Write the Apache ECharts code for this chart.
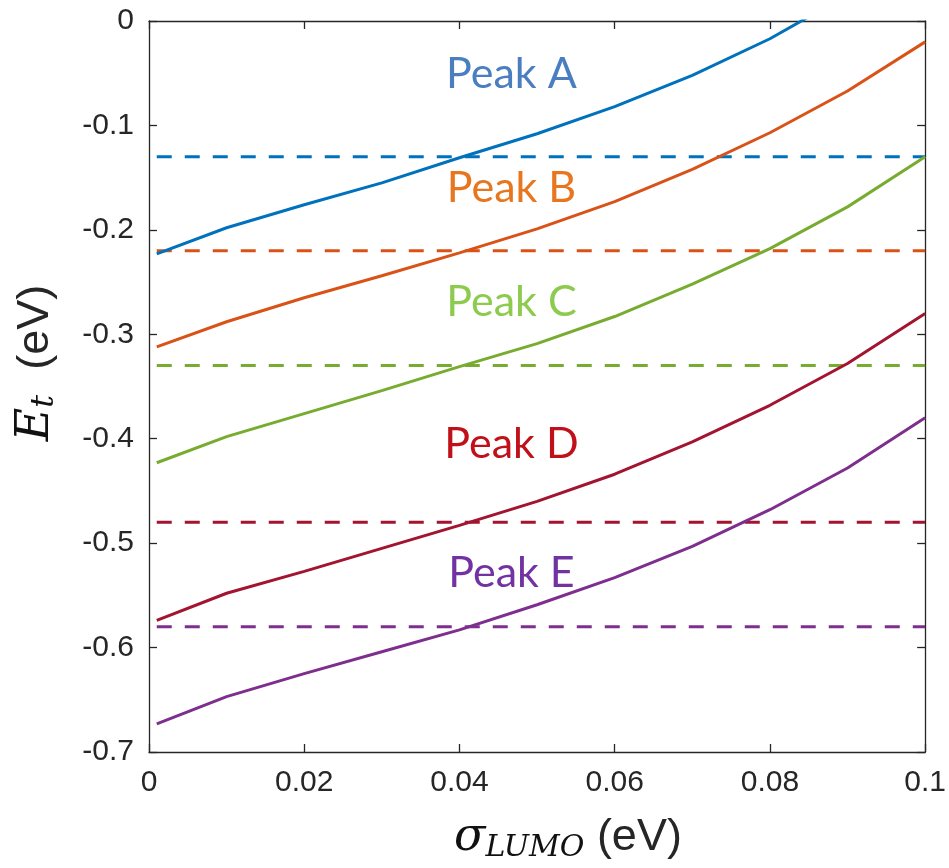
<!DOCTYPE html>
<html>
<head>
<meta charset="utf-8">
<script src="https://cdn.jsdelivr.net/npm/echarts@6/dist/echarts.min.js"></script>
<style>html,body{margin:0;padding:0;background:#fff;}#chart{width:949px;height:868px;}</style>
</head>
<body>
<div id="chart"></div>
<script>
// ---- data ----
const sigma = [0.001, 0.01, 0.02, 0.03, 0.04, 0.05, 0.06, 0.07, 0.08, 0.09, 0.1];
const peakA = [-0.223, -0.198, -0.176, -0.155, -0.131, -0.108, -0.082, -0.052, -0.017, 0.025, 0.075];
const peakB = [-0.312, -0.288, -0.265, -0.244, -0.222, -0.199, -0.173, -0.142, -0.107, -0.067, -0.020];
const peakC = [-0.423, -0.398, -0.376, -0.354, -0.331, -0.309, -0.283, -0.252, -0.218, -0.178, -0.130];
const peakD = [-0.574, -0.548, -0.527, -0.505, -0.483, -0.460, -0.434, -0.403, -0.368, -0.328, -0.280];
const peakE = [-0.673, -0.647, -0.625, -0.604, -0.583, -0.559, -0.533, -0.503, -0.468, -0.428, -0.380];
const levels = [-0.13, -0.22, -0.33, -0.48, -0.58];
const levelX = [0.001, 0.1];
const peakNames = ['Peak A', 'Peak B', 'Peak C', 'Peak D', 'Peak E'];
const labelX = [0.0467, 0.0467, 0.0467, 0.0467, 0.0467];
const labelY = [-0.051, -0.160, -0.269, -0.405, -0.529];
const xTicks = [0, 0.02, 0.04, 0.06, 0.08, 0.1];
const yTicks = [0, -0.1, -0.2, -0.3, -0.4, -0.5, -0.6, -0.7];

// ---- styles ----
const lineColors = ['#0072BD', '#D95319', '#77AC30', '#A2142F', '#7E2F8E'];
const textColors = ['#4A7EC1', '#E8761E', '#8CCB4E', '#C0101A', '#7232A2'];
const curves = [peakA, peakB, peakC, peakD, peakE];

const series = [];
curves.forEach((c, i) => {
  series.push({
    type: 'line', xAxisIndex: 0, yAxisIndex: 0,
    data: sigma.map((x, k) => [x, c[k]]),
    symbol: 'none', clip: true,
    lineStyle: { color: lineColors[i], width: 3 },
    z: 3
  });
  series.push({
    type: 'line', xAxisIndex: 0, yAxisIndex: 0,
    data: levelX.map(x => [x, levels[i]]),
    symbol: 'none',
    lineStyle: { color: lineColors[i], width: 3, type: [15, 13], cap: 'butt' },
    z: 2
  });
});
series.push({
  type: 'scatter', xAxisIndex: 0, yAxisIndex: 0,
  symbolSize: 1,
  itemStyle: { opacity: 0 },
  data: peakNames.map((n, i) => ({
    value: [labelX[i], labelY[i]], name: n,
    label: { color: textColors[i] }
  })),
  label: {
    show: true, position: 'inside', formatter: p => p.name, opacity: 1,
    fontFamily: 'Lato', fontSize: 43, fontWeight: 'normal'
  },
  emphasis: { disabled: true },
  z: 5
});

const axisCommon = {
  axisLine: { show: true, onZero: false, lineStyle: { color: '#262626', width: 1.3 } },
  axisTick: { show: true, inside: true, length: 8, lineStyle: { color: '#262626', width: 1.3 } },
  splitLine: { show: false }
};

const chart = echarts.init(document.getElementById('chart'), null, { renderer: 'canvas' });
chart.setOption({
  backgroundColor: '#ffffff',
  animation: false,
  grid: { left: 149, right: 23, top: 21, bottom: 116 },
  xAxis: [
    Object.assign({}, axisCommon, {
      type: 'value', position: 'bottom', min: 0, max: 0.1, interval: 0.02,
      axisLabel: {
        show: true, margin: 16, color: '#262626', fontFamily: 'Liberation Sans', fontSize: 30,
        formatter: v => { const t = xTicks.find(tk => Math.abs(tk - v) < 1e-9); return t === undefined ? '' : String(t); }
      }
    }),
    Object.assign({}, axisCommon, {
      type: 'value', position: 'top', min: 0, max: 0.1, interval: 0.02,
      axisLabel: { show: false }
    })
  ],
  yAxis: [
    Object.assign({}, axisCommon, {
      type: 'value', position: 'left', min: -0.7, max: 0, interval: 0.1,
      axisLabel: {
        show: true, margin: 15, color: '#262626', fontFamily: 'Liberation Sans', fontSize: 30,
        formatter: v => { const t = yTicks.find(tk => Math.abs(tk - v) < 1e-9); return t === undefined ? '' : String(t); }
      }
    }),
    Object.assign({}, axisCommon, {
      type: 'value', position: 'right', min: -0.7, max: 0, interval: 0.1,
      axisLabel: { show: false }
    })
  ],
  series: series,
  graphic: [
    {
      type: 'text', x: 568, y: 838,
      style: {
        text: '{s|σ}{sub|LUMO}{n| (eV)}',
        align: 'center', verticalAlign: 'middle',
        rich: {
          s: { fontFamily: 'DejaVu Serif', fontStyle: 'italic', fontSize: 46, lineHeight: 50, fill: '#111', verticalAlign: 'middle' },
          sub: { fontFamily: 'DejaVu Serif', fontStyle: 'italic', fontSize: 30, lineHeight: 24, fill: '#111', verticalAlign: 'bottom' },
          n: { fontFamily: 'Liberation Sans', fontSize: 45, lineHeight: 50, fill: '#262626', verticalAlign: 'middle' }
        }
      }
    },
    {
      type: 'text', x: 36, y: 363, rotation: Math.PI / 2,
      style: {
        text: '{e|E}{sub|t}{n|  (eV)}',
        align: 'center', verticalAlign: 'middle',
        rich: {
          e: { fontFamily: 'DejaVu Serif', fontStyle: 'italic', fontSize: 46, lineHeight: 50, fill: '#111', verticalAlign: 'middle' },
          sub: { fontFamily: 'DejaVu Serif', fontStyle: 'italic', fontSize: 32, lineHeight: 24, fill: '#111', verticalAlign: 'bottom' },
          n: { fontFamily: 'Liberation Sans', fontSize: 45, lineHeight: 50, fill: '#262626', verticalAlign: 'middle' }
        }
      }
    }
  ]
});
</script>
</body>
</html>
